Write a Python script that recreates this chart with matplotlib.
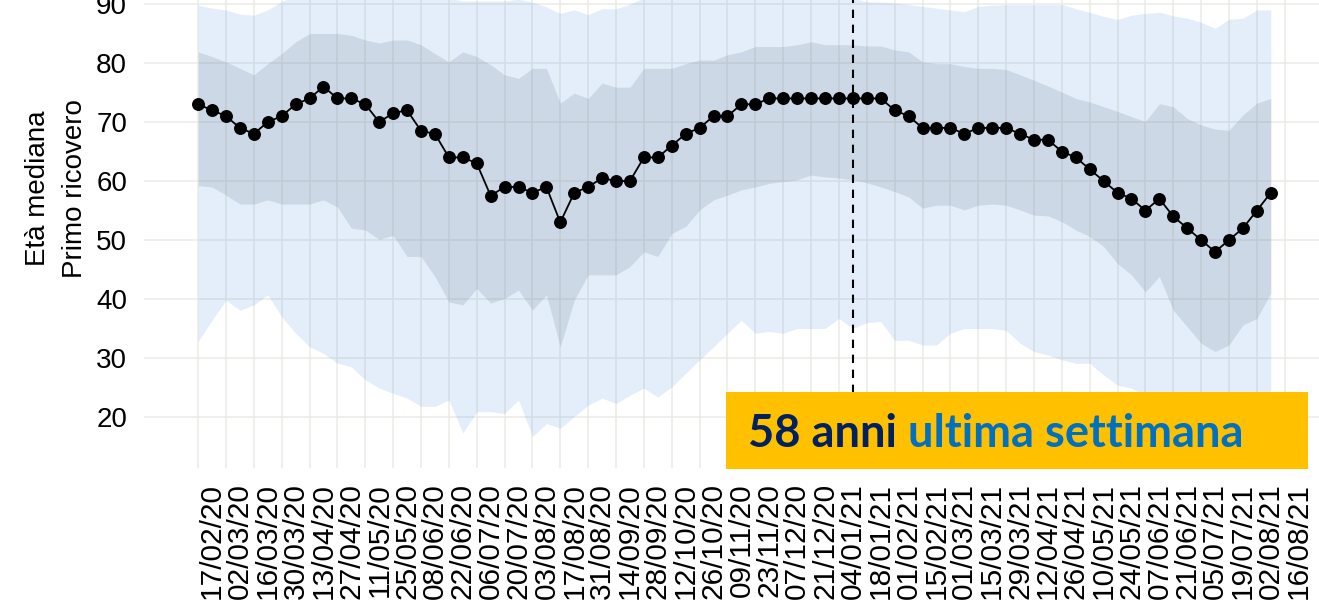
import matplotlib
matplotlib.use('Agg')
import matplotlib.pyplot as plt
from matplotlib.patches import Rectangle
import pandas as pd

# weekly data, first week 17/02/20
weeks = pd.date_range('2020-02-17', periods=78, freq='7D')

eta_mediana = [73, 72, 71, 69, 68, 70, 71, 73, 74, 76,
               74, 74, 73, 70, 71.5, 72, 68.5, 68, 64, 64,
               63, 57.5, 59, 59, 58, 59, 53, 58, 59, 60.5,
               60, 60, 64, 64, 66, 68, 69, 71, 71, 73,
               73, 74, 74, 74, 74, 74, 74, 74, 74, 74,
               72, 71, 69, 69, 69, 68, 69, 69, 69, 68,
               67, 67, 65, 64, 62, 60, 58, 57, 55, 57,
               54, 52, 50, 48, 50, 52, 55, 58]

# inner band (grey)
eta_p75 = [81.9, 81.1, 80.2, 79.1, 78.0, 79.9, 81.6, 83.6, 85.0, 85.0,
           85.0, 84.7, 83.9, 83.4, 83.9, 83.9, 83.1, 81.6, 80.2, 81.9,
           81.1, 79.7, 78.0, 77.4, 79.1, 79.1, 73.2, 74.9, 74.0, 76.6,
           75.9, 75.9, 79.1, 79.1, 79.1, 79.9, 80.5, 80.5, 81.4, 81.9,
           82.8, 82.8, 82.8, 83.1, 83.6, 83.1, 83.1, 83.1, 82.9, 82.9,
           82.2, 81.9, 80.2, 79.9, 79.9, 79.4, 79.1, 79.1, 78.9, 78.0,
           77.1, 76.1, 75.1, 74.0, 73.4, 72.6, 71.8, 70.9, 70.1, 73.1,
           72.6, 70.6, 69.5, 68.8, 68.6, 71.2, 73.2, 74.0]
eta_p25 = [59.2, 59.0, 57.6, 56.1, 56.1, 56.8, 56.1, 56.1, 56.1, 56.8,
           55.6, 52.0, 51.7, 50.1, 50.8, 47.2, 47.2, 43.8, 39.5, 39.0,
           41.8, 39.3, 40.1, 41.5, 38.1, 40.7, 31.9, 39.8, 44.1, 44.1,
           44.1, 45.5, 48.0, 47.2, 51.1, 52.3, 55.1, 56.8, 57.6, 58.5,
           59.0, 59.6, 59.9, 60.2, 61.0, 60.7, 60.5, 60.2, 59.7, 59.0,
           58.2, 57.3, 55.4, 55.9, 55.9, 55.1, 55.9, 56.1, 55.9, 55.1,
           54.2, 54.1, 53.1, 51.7, 50.6, 48.9, 46.0, 44.1, 41.2, 43.8,
           38.1, 35.3, 32.5, 31.1, 32.2, 35.6, 36.7, 41.0]

# outer band (light blue)
eta_p95 = [89.8, 89.3, 89.0, 88.3, 88.1, 89.0, 90.4, 91.5, 92, 92,
           92, 92, 92, 92, 92, 92, 92, 92, 91, 90.5,
           90.5, 90.5, 90.5, 90.8, 90.3, 89.5, 88.4, 89.0, 88.2, 89.2,
           89.2, 90.0, 91, 92, 92, 92, 92, 92, 92, 92,
           92, 92, 92, 92, 92, 92, 92, 91, 90.4, 90.3,
           90.2, 89.9, 89.6, 89.3, 89.0, 88.7, 89.6, 89.8, 89.9, 89.9,
           89.9, 89.9, 89.9, 89.2, 88.6, 87.9, 87.4, 88.1, 88.4, 88.6,
           88.0, 87.6, 86.9, 85.9, 87.4, 87.6, 89.0, 89.0]
eta_p05 = [32.8, 36.4, 39.8, 38.1, 39.0, 40.7, 37.0, 34.2, 31.9, 30.8,
           29.1, 28.5, 26.3, 24.9, 24.0, 23.2, 21.8, 21.8, 22.9, 17.3,
           20.9, 20.9, 20.6, 22.9, 16.7, 18.9, 18.1, 20.1, 22.0, 23.2,
           22.3, 23.7, 24.9, 23.4, 25.1, 27.4, 29.7, 31.9, 34.2, 36.4,
           34.2, 34.5, 34.2, 35.0, 35.0, 35.0, 36.7, 35.0, 36.0, 36.2,
           33.0, 33.0, 32.2, 32.2, 34.2, 35.0, 35.0, 35.0, 34.7, 32.5,
           31.1, 30.5, 29.7, 29.1, 29.1, 27.1, 25.4, 24.9, 23.5, 23.0,
           22.0, 21.0, 20.0, 20.0, 20.0, 21.0, 22.0, 23.0]

tick_labels = ['17/02/20', '02/03/20', '16/03/20', '30/03/20', '13/04/20',
               '27/04/20', '11/05/20', '25/05/20', '08/06/20', '22/06/20',
               '06/07/20', '20/07/20', '03/08/20', '17/08/20', '31/08/20',
               '14/09/20', '28/09/20', '12/10/20', '26/10/20', '09/11/20',
               '23/11/20', '07/12/20', '21/12/20', '04/01/21', '18/01/21',
               '01/02/21', '15/02/21', '01/03/21', '15/03/21', '29/03/21',
               '12/04/21', '26/04/21', '10/05/21', '24/05/21', '07/06/21',
               '21/06/21', '05/07/21', '19/07/21', '02/08/21', '16/08/21']
tick_dates = pd.to_datetime(tick_labels, format='%d/%m/%y')
data_linea = pd.Timestamp('2021-01-11')

fig = plt.figure(figsize=(13.19, 6.01), dpi=100)
ax = fig.add_axes([0.1090, 0.2213, 0.9062, 0.7787])

ax.fill_between(weeks, eta_p05, eta_p95, color='#4A90E2', alpha=0.15, lw=0, zorder=1)
ax.fill_between(weeks, eta_p25, eta_p75, color='#5B6B7F', alpha=0.16, lw=0, zorder=2)
ax.axvline(data_linea, color='black', lw=1.5, ls=(0, (4, 3.2)), zorder=3)
ax.plot(weeks, eta_mediana, color='black', lw=1.3, marker='o', ms=8.3, zorder=4)

ax.set_xlim(weeks[0] - pd.Timedelta(days=27.3), weeks[0] + pd.Timedelta(days=573.3))
ax.set_ylim(11.36, 90.68)
ax.set_yticks(range(20, 100, 10))
ax.set_xticks(tick_dates)
ax.set_xticklabels(tick_labels, rotation=90, ha='left', va='top')

for s in ax.spines.values():
    s.set_visible(False)
ax.tick_params(length=0, labelsize=20, labelcolor='black')
ax.tick_params(axis='x', pad=11, labelsize=21.5)
ax.tick_params(axis='y', pad=12)
for lab in ax.get_xticklabels() + ax.get_yticklabels():
    lab.set_family('Liberation Sans')
ax.grid(True, color='#EBEBE5', lw=1.1)
ax.set_axisbelow(True)

ax.set_ylabel('Età mediana\nPrimo ricovero', fontsize=20, family='Liberation Sans',
              linespacing=1.55)
ax.yaxis.set_label_coords(-0.0466, 0.598)

# riquadro in basso a destra
ax.add_patch(Rectangle((726 / 1319, 132 / 601), 582 / 1319, 77 / 601,
                       transform=fig.transFigure, facecolor='#FFC000',
                       edgecolor='none', zorder=10, clip_on=False))
t1 = ax.text(748 / 1319, 154 / 601, '58 anni ', family='Lato', weight='bold',
             fontsize=32.6, color='#002060', ha='left', va='baseline', zorder=11,
             transform=fig.transFigure, clip_on=False)
ax.annotate('ultima settimana', xy=(1, 0), xycoords=t1, family='Lato',
            weight='bold', fontsize=32.6, color='#0070C0', ha='left', va='bottom',
            annotation_clip=False, zorder=11)

plt.savefig('out.png', dpi=100)
